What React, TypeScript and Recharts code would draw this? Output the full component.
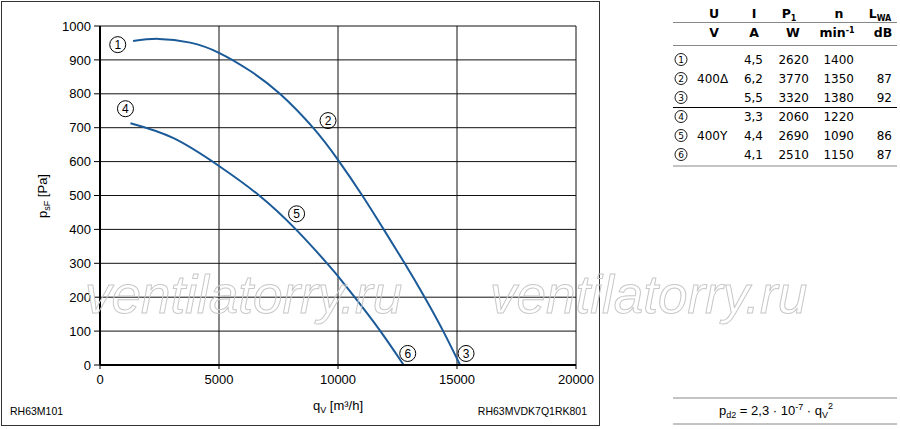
import React from 'react';
import { LineChart, Line, XAxis, YAxis, CartesianGrid, ReferenceDot } from 'recharts';

// Fan curve, 400V delta (points 1-2-3)
const flowDelta = [1390, 2460, 3790, 5000, 6300, 7560, 8950, 10000, 11020, 11920, 12800, 13640, 14420, 15130];
const pressureDelta = [956, 962, 951, 921, 868, 800, 700, 605, 500, 400, 300, 200, 100, 0];

// Fan curve, 400V star (points 4-5-6)
const flowStar = [1280, 3090, 5000, 6690, 8230, 9540, 10000, 10700, 11780, 12760];
const pressureStar = [713, 669, 587, 500, 400, 300, 262, 200, 100, 0];

const flowTicks = [0, 5000, 10000, 15000, 20000];
const pressureTicks = [0, 100, 200, 300, 400, 500, 600, 700, 800, 900, 1000];

// circled operating point markers
const markerIds = ['1', '2', '3', '4', '5', '6'];
const markerFlow = [745, 9580, 15380, 1070, 8260, 12930];
const markerPressure = [945, 721, 34, 756, 446, 34];

// table on the right
const rowVoltage = ['', '400Δ', '', '', '400Y', ''];
const rowCurrent = ['4,5', '6,2', '5,5', '3,3', '4,4', '4,1'];
const rowPower = ['2620', '3770', '3320', '2060', '2690', '2510'];
const rowSpeed = ['1400', '1350', '1380', '1220', '1090', '1150'];
const rowNoise = ['', '87', '92', '', '86', '87'];

const BLUE = '#1b5a98';
const FONT = '"Liberation Sans", Arial, sans-serif';
const TABLE_FONT = '"DejaVu Sans", "Liberation Sans", sans-serif';

const deltaPoints = flowDelta.map((q, i) => ({ q, p: pressureDelta[i] }));
const starPoints = flowStar.map((q, i) => ({ q, p: pressureStar[i] }));

const CircleMark = ({ cx, cy, id }: any) => (
  <g>
    <circle cx={cx} cy={cy} r={8} fill="none" stroke="#000" strokeWidth={1} />
    <text x={cx} y={cy + 4.4} textAnchor="middle" fontSize={12} fontFamily={FONT} fill="#000">
      {id}
    </text>
  </g>
);

const rowY = [64, 83, 102, 121, 140, 159];

function Overlay() {
  return (
    <svg width={900} height={429} style={{ position: 'absolute', left: 0, top: 0, pointerEvents: 'none' }}>
      {/* frame around the chart */}
      <rect x={1.5} y={1.5} width={598} height={424} fill="none" stroke="#333" strokeWidth={1} />

      {/* axis titles */}
      <text transform="translate(47,196) rotate(-90)" textAnchor="middle" fontSize={13} fontFamily={FONT} fill="#000">
        p<tspan fontSize={9} dy={3}>sF</tspan>
        <tspan dy={-3}> [Pa]</tspan>
      </text>
      <text x={338} y={410} textAnchor="middle" fontSize={13} fontFamily={FONT} fill="#000">
        q<tspan fontSize={9} dy={3}>V</tspan>
        <tspan dy={-3}> [m³/h]</tspan>
      </text>
      <text x={10} y={415} fontSize={10.5} fontFamily={FONT} fill="#000">RH63M101</text>
      <text x={587} y={415} textAnchor="end" fontSize={10.5} fontFamily={FONT} fill="#000">RH63MVDK7Q1RK801</text>

      {/* table */}
      <g fontFamily={TABLE_FONT} fontSize={12} fill="#000">
        <g fontWeight="bold" fontSize={12.5}>
          <text x={714} y={18} textAnchor="middle">U</text>
          <text x={754} y={18} textAnchor="middle">I</text>
          <text x={789} y={18} textAnchor="middle">
            P<tspan fontSize={8} dy={3}>1</tspan>
          </text>
          <text x={839} y={18} textAnchor="middle">n</text>
          <text x={880} y={18} textAnchor="middle">
            L<tspan fontSize={8} dy={3}>WA</tspan>
          </text>
          <text x={714} y={37} textAnchor="middle">V</text>
          <text x={754} y={37} textAnchor="middle">A</text>
          <text x={793} y={37} textAnchor="middle">W</text>
          <text x={837} y={37} textAnchor="middle">
            min<tspan fontSize={8} dy={-4}>-1</tspan>
          </text>
          <text x={883} y={37} textAnchor="middle">dB</text>
        </g>
        <line x1={673} x2={897} y1={22.5} y2={22.5} stroke="#888" strokeWidth={1} />
        <line x1={673} x2={897} y1={45.5} y2={45.5} stroke="#888" strokeWidth={1} />
        <line x1={673} x2={897} y1={107.5} y2={107.5} stroke="#000" strokeWidth={1} />
        <line x1={673} x2={897} y1={166} y2={166} stroke="#888" strokeWidth={1} />
        {markerIds.map((id, i) => (
          <g key={id}>
            <circle cx={681} cy={rowY[i] - 4.5} r={6} fill="none" stroke="#000" strokeWidth={0.9} />
            <text x={681} y={rowY[i] - 1.2} textAnchor="middle" fontSize={9}>{id}</text>
            <text x={697} y={rowY[i]}>{rowVoltage[i]}</text>
            <text x={763} y={rowY[i]} textAnchor="end">{rowCurrent[i]}</text>
            <text x={809} y={rowY[i]} textAnchor="end">{rowPower[i]}</text>
            <text x={854} y={rowY[i]} textAnchor="end">{rowSpeed[i]}</text>
            <text x={892} y={rowY[i]} textAnchor="end">{rowNoise[i]}</text>
          </g>
        ))}
      </g>

      {/* dynamic pressure formula */}
      <line x1={673} x2={897} y1={398} y2={398} stroke="#888" strokeWidth={1} />
      <line x1={673} x2={897} y1={424} y2={424} stroke="#888" strokeWidth={1} />
      <text x={776} y={415} textAnchor="middle" fontSize={13} fontFamily={FONT} fill="#000">
        p<tspan fontSize={9} dy={3}>d2</tspan>
        <tspan dy={-3}> = 2,3 · 10</tspan>
        <tspan fontSize={9} dy={-5}>-7</tspan>
        <tspan dy={5}> · q</tspan>
        <tspan fontSize={9} dy={3}>V</tspan>
        <tspan fontSize={9} dy={-9}>2</tspan>
      </text>

      {/* watermark */}
      <g fontFamily={FONT} fontStyle="italic" fontSize={53} fill="none" stroke="#c8c8c8" strokeWidth={1}>
        <text x={85} y={313}>ventilatorry.ru</text>
        <text x={490} y={313}>ventilatorry.ru</text>
      </g>
    </svg>
  );
}

export default function App() {
  return (
    <div style={{ position: 'absolute', left: 0, top: 0, width: 900, height: 429, background: '#fff', fontFamily: FONT }}>
      <LineChart width={600} height={429} margin={{ top: 26, right: 24, bottom: 34, left: 40 }}>
        <CartesianGrid stroke="#111" strokeWidth={1} />
        <XAxis
          type="number"
          dataKey="q"
          domain={[0, 20000]}
          ticks={flowTicks}
          interval={0}
          allowDataOverflow
          height={30}
          tickSize={4}
          tickMargin={6}
          axisLine={{ stroke: '#000', strokeWidth: 2 }}
          tickLine={{ stroke: '#000' }}
          tick={{ fill: '#000', fontSize: 13, fontFamily: FONT }}
        />
        <YAxis
          type="number"
          domain={[0, 1000]}
          ticks={pressureTicks}
          interval={0}
          allowDataOverflow
          width={60}
          tickSize={6}
          tickMargin={3}
          axisLine={{ stroke: '#000', strokeWidth: 2 }}
          tickLine={{ stroke: '#000' }}
          tick={{ fill: '#000', fontSize: 13, fontFamily: FONT }}
        />
        <Line data={deltaPoints} dataKey="p" type="natural" stroke={BLUE} strokeWidth={2} dot={false} isAnimationActive={false} />
        <Line data={starPoints} dataKey="p" type="natural" stroke={BLUE} strokeWidth={2} dot={false} isAnimationActive={false} />
        {markerIds.map((id, i) => (
          <ReferenceDot
            key={id}
            x={markerFlow[i]}
            y={markerPressure[i]}
            ifOverflow="visible"
            shape={(props: any) => <CircleMark cx={props.cx} cy={props.cy} id={id} />}
          />
        ))}
      </LineChart>
      <Overlay />
    </div>
  );
}
